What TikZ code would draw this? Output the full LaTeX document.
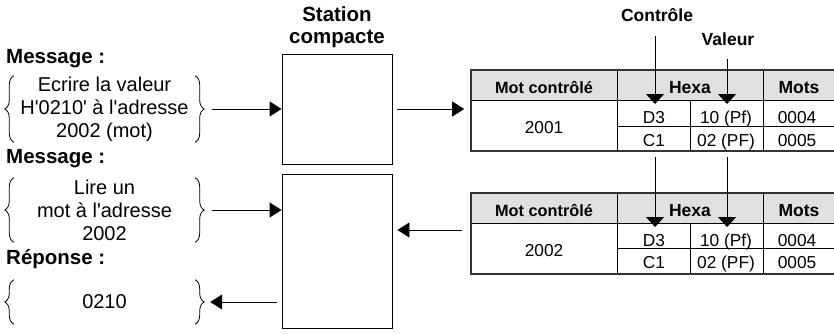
\documentclass[tikz,border=0pt]{standalone}
\usepackage{fontspec}
\setmainfont{Liberation Sans}[Ligatures=TeXOff]
\usetikzlibrary{arrows.meta,decorations.pathreplacing}

\tikzset{
  lbl/.style={inner sep=0pt,font=\fontsize{20.5}{22}\selectfont\bfseries},
  msg/.style={inner sep=0pt,align=center,minimum width=181pt,font=\fontsize{20}{23}\selectfont},
  brc/.style={decorate,decoration={brace,amplitude=9pt},line width=0.8pt},
  arr/.style={line width=0.9pt,-{Triangle[length=12pt,width=15pt]}},
  darr/.style={line width=0.9pt,-{Triangle[length=10pt,width=18pt]}},
  stbox/.style={draw,line width=0.9pt,minimum width=110pt,inner sep=0pt},
  tabframe/.style={draw=black!80,line width=1.6pt,minimum width=369pt,minimum height=81pt,inner sep=0pt},
  hd/.style={inner sep=0pt,anchor=base,font=\fontsize{17.5}{19}\selectfont\bfseries},
  cell/.style={inner sep=0pt,anchor=base,font=\fontsize{17.3}{19}\selectfont}
}

\begin{document}
\begin{tikzpicture}[x=1pt,y=-1pt]
  \useasboundingbox (0,0) rectangle (834,333);

  % left side: messages
  \node[lbl,anchor=base west] (lblA) at (6,63) {Message :};
  \node[msg,minimum height=66pt] (msgA) at (104.5,109) {Ecrire la valeur\\H'0210' à l'adresse\\2002 (mot)};
  \node[lbl,anchor=base west] (lblB) at (6,163) {Message :};
  \node[msg,minimum height=64pt] (msgB) at (104.5,210) {Lire un\\mot à l'adresse\\2002};
  \node[lbl,anchor=base west] (lblC) at (6,264) {Réponse :};
  \node[msg,minimum height=44pt] (msgC) at (104.5,302) {0210};
  \foreach \m in {msgA,msgB,msgC}{
    \draw[brc] (\m.south west) -- (\m.north west);
    \draw[brc] (\m.north east) -- (\m.south east);
  }

  % station
  \node[lbl,align=center,anchor=north] (sttitle) at (337,6) {Station\\compacte};
  \node[stbox,minimum height=110pt] (st1) at (337,109) {};
  \node[stbox,minimum height=154pt] (st2) at (337,251) {};

  % table 1
  \fill[black!12] (471,70) rectangle (840,100);
  \draw[line width=0.8pt] (617,70) -- (617,151) (763,70) -- (763,151) (690,100) -- (690,151)
    (471,100) -- (840,100) (617,126) -- (840,126);
  \node[tabframe] (tab1) at (655.5,110.5) {};
  \node[hd,font=\fontsize{16.3}{19}\selectfont\bfseries] (t1h1) at (544,93) {Mot contrôlé};
  \node[hd] (t1h2) at (690,93) {Hexa};
  \node[hd] (t1h3) at (799,93) {Mots};
  \node[cell] (t1a) at (544,133) {2001};
  \node[cell] (t1b) at (654,123.5) {D3};
  \node[cell] (t1c) at (726,123.5) {10 (Pf)};
  \node[cell] (t1d) at (797,123.5) {0004};
  \node[cell] (t1e) at (654,146) {C1};
  \node[cell] (t1f) at (726,146) {02 (PF)};
  \node[cell] (t1g) at (797,146) {0005};

  % table 2
  \fill[black!12] (471,193) rectangle (840,223);
  \draw[line width=0.8pt] (617,193) -- (617,274) (763,193) -- (763,274) (690,223) -- (690,274)
    (471,223) -- (840,223) (617,248.5) -- (840,248.5);
  \node[tabframe] (tab2) at (655.5,233.5) {};
  \node[hd,font=\fontsize{16.3}{19}\selectfont\bfseries] (t2h1) at (544,216) {Mot contrôlé};
  \node[hd] (t2h2) at (690,216) {Hexa};
  \node[hd] (t2h3) at (799,216) {Mots};
  \node[cell] (t2a) at (544,256) {2002};
  \node[cell] (t2b) at (654,246) {D3};
  \node[cell] (t2c) at (726,246) {10 (Pf)};
  \node[cell] (t2d) at (797,246) {0004};
  \node[cell] (t2e) at (654,268.5) {C1};
  \node[cell] (t2f) at (726,268.5) {02 (PF)};
  \node[cell] (t2g) at (797,268.5) {0005};

  % controle / valeur
  \node[lbl,anchor=base,font=\fontsize{17.5}{20}\selectfont\bfseries] (ctl) at (657,21) {Contrôle};
  \node[lbl,anchor=base,font=\fontsize{17.5}{20}\selectfont\bfseries] (val) at (728,45) {Valeur};
  \coordinate (ctlA) at (655,104);
  \coordinate (valA) at (727,104);
  \coordinate (ctlB0) at (655,157);
  \coordinate (valB0) at (727,157);
  \coordinate (ctlB) at (655,227);
  \coordinate (valB) at (727,227);
  \draw[darr] (ctl.south -| ctlA) ++(0,15) -- (ctlA);
  \draw[darr] (val.south -| valA) ++(0,14) -- (valA);
  \draw[darr] (ctlB0) -- (ctlB);
  \draw[darr] (valB0) -- (valB);

  % connectors
  \draw[arr,shorten <=17pt] (msgA.east) -- (msgA.east -| st1.west);
  \draw[arr,shorten <=5pt,shorten >=6pt] (st1.east) -- (st1.east -| tab1.west);
  \draw[arr,shorten <=17pt] (msgB.east) -- (msgB.east -| st2.west);
  \draw[arr,shorten <=8pt,shorten >=5pt] (tab2.west |- 0,230) -- (st2.east |- 0,230);
  \draw[arr,shorten <=5pt,shorten >=15pt] (st2.west |- msgC.east) -- (msgC.east);
\end{tikzpicture}
\end{document}
